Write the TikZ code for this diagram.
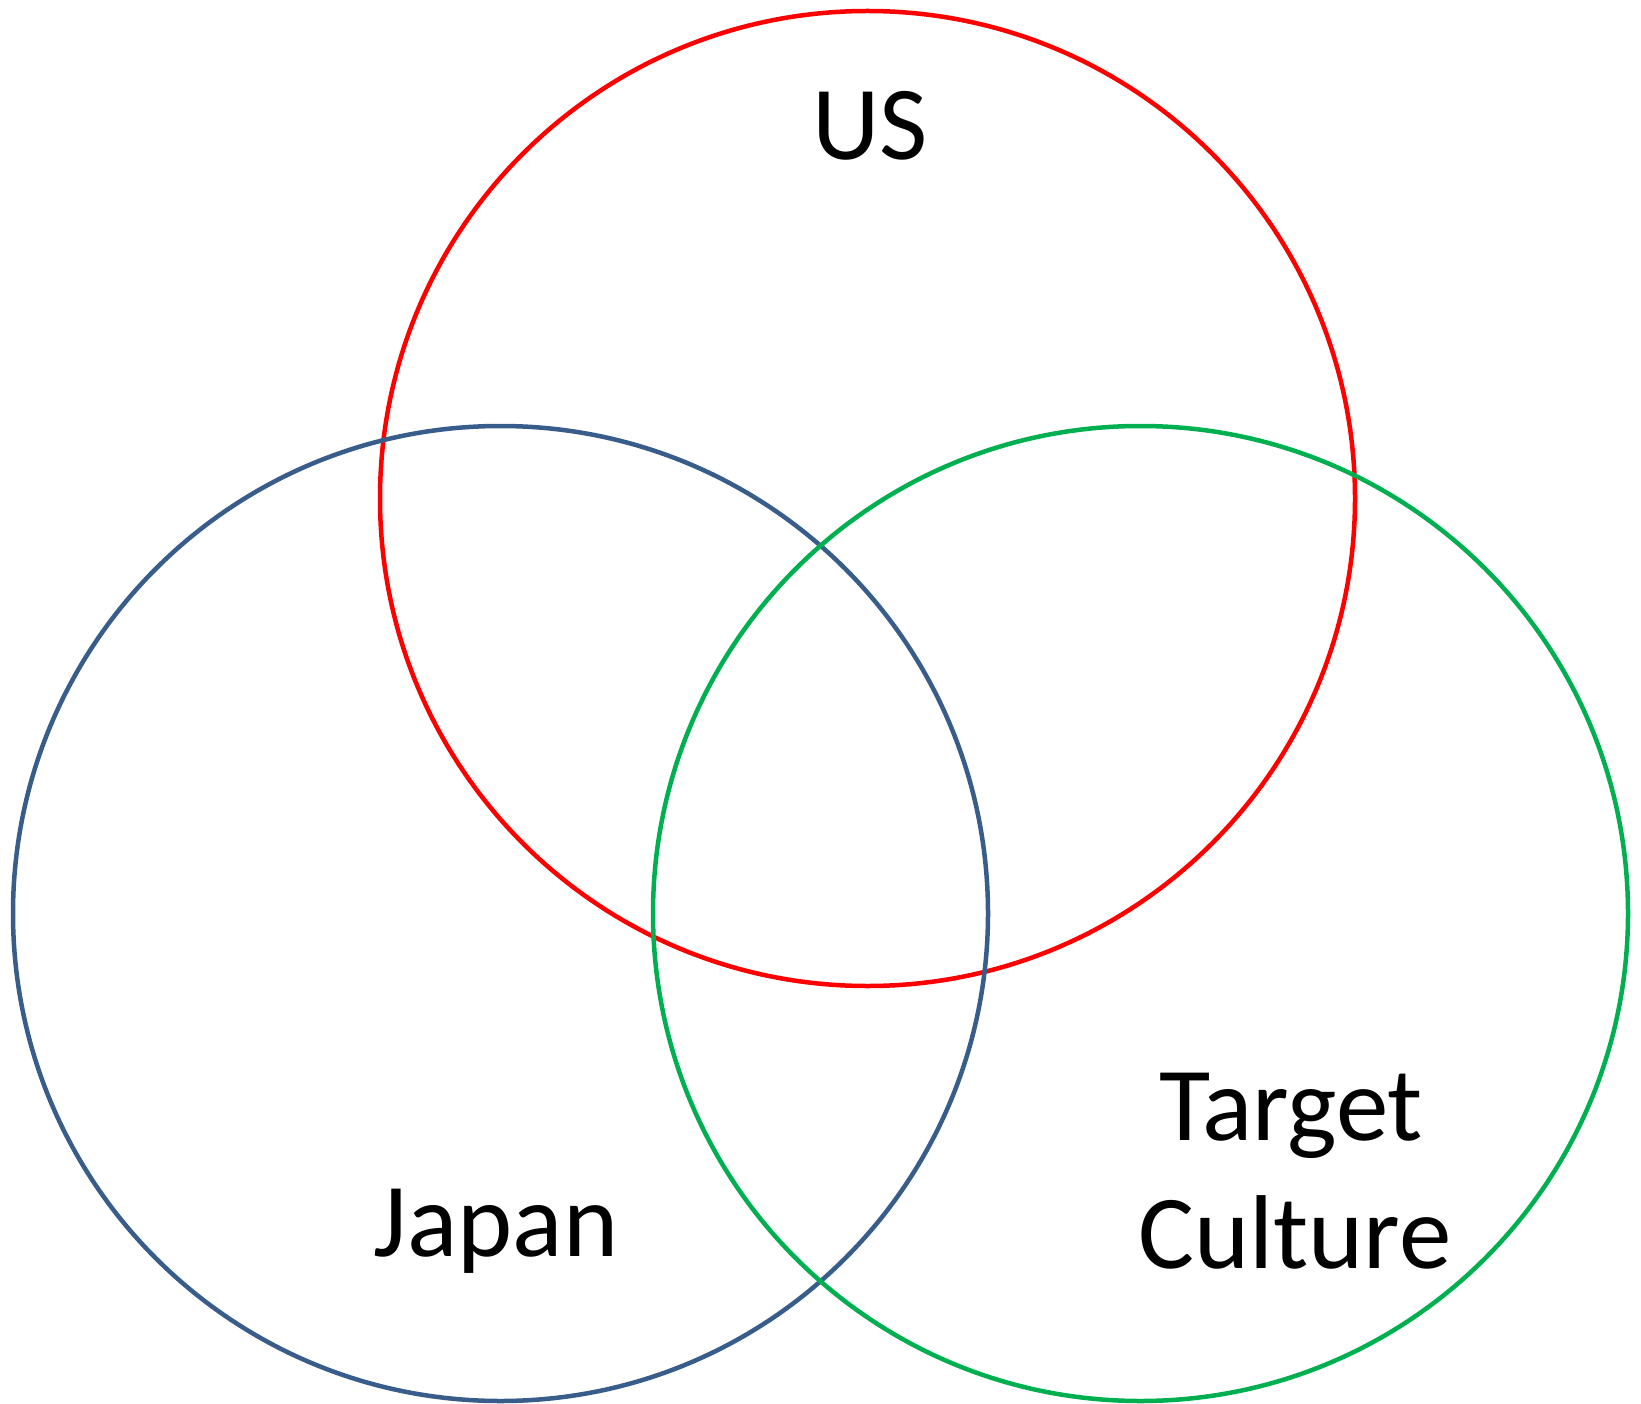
\documentclass[tikz,border=0pt]{standalone}
\usepackage{fontspec}
\setmainfont{Carlito}
\definecolor{usred}{HTML}{FF0000}
\definecolor{jpblue}{HTML}{385D8A}
\definecolor{tcgreen}{HTML}{00B050}
\begin{document}
\begin{tikzpicture}[x=1pt,y=-1pt,
  venn/.style={circle, draw, line width=4.5pt, minimum size=975pt, inner sep=0pt, outer sep=0pt},
  lbl/.style={anchor=base, inner sep=0pt, font=\fontsize{105}{127}\selectfont}]
\useasboundingbox[fill=white] (0,0) rectangle (1641,1404);
\node[venn, draw=usred] (us) at (867.5,498.5) {};
\node[venn, draw=jpblue] (japan) at (500.5,913.5) {};
\node[venn, draw=tcgreen] (target) at (1140.5,913.5) {};
\node[lbl] (uslabel) at (870,160) {US};
\node[lbl] (japanlabel) at (496,1256.5) {Japan};
\node[lbl] (targetlabel) at (1291,1140.5) {Target};
\node[lbl] (culturelabel) at (1295,1268) {Culture};
\end{tikzpicture}
\end{document}
